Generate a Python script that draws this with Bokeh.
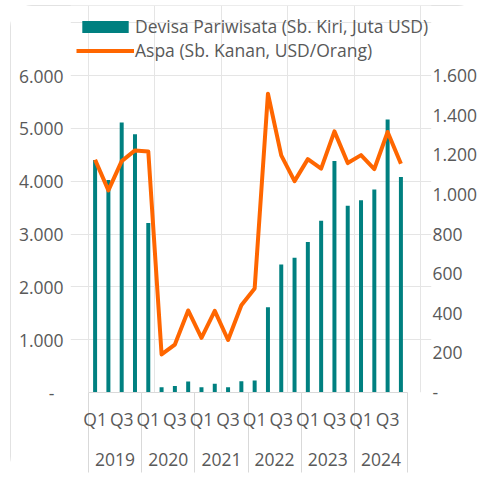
from bokeh.plotting import figure
from bokeh.models import (Range1d, LinearAxis, FixedTicker,
                          ColumnDataSource, Legend, LegendItem, AllLabels)
from bokeh.embed import file_html
from bokeh.resources import INLINE

# ---- data ----
years = ["2019", "2020", "2021", "2022", "2023", "2024"]
quarters = ["Q1", "Q2", "Q3", "Q4"]
shown_quarters = ["Q1", "Q3"]
devisa = [4400, 4020, 5110, 4890, 3210, 100, 125, 210, 100, 165, 100, 215,
          228, 1615, 2425, 2550, 2850, 3250, 4380, 3535, 3640, 3840, 5165, 4080]
aspa = [1175, 1020, 1168, 1222, 1217, 192, 242, 414, 276, 412, 265, 440,
        525, 1508, 1197, 1067, 1178, 1130, 1318, 1158, 1198, 1128, 1315, 1155]
left_ticks = [0, 1000, 2000, 3000, 4000, 5000, 6000]
left_labels = ["-\u00a0\u00a0", "1.000", "2.000", "3.000", "4.000", "5.000", "6.000"]
right_ticks = [0, 200, 400, 600, 800, 1000, 1200, 1400, 1600]
right_labels = ["-", "200", "400", "600", "800", "1.000", "1.200", "1.400", "1.600"]
series_names = ["Devisa Pariwisata (Sb. Kiri, Juta USD)", "Aspa (Sb. Kanan, USD/Orang)"]

# ---- style / layout ----
FONT = "Open Sans"
GREY = "#595959"
BORDER = "#D9D9D9"
TEAL = "#008080"
ORANGE = "#FF6600"
FS = "17.5px"
W, H = 470, 473              # canvas (shifted by a 10/5 px margin on the page)
PLOT_W, PLOT_H = 320, 317    # area spanned by the axes' value ranges
EXTRA_L, EXTRA_R, EXTRA_T = 18, 24, 70   # frame extends beyond that area (room for the legend)
B_LEFT, B_RIGHT, B_BOTTOM = 60, 48, 86

nq = len(quarters)
n = len(years) * nq
xpos = [i + 0.5 for i in range(n)]          # slot centres, one per quarter
source = ColumnDataSource(dict(x=xpos, devisa=devisa, aspa=aspa))

x_start = -EXTRA_L * n / PLOT_W
x_end = n + EXTRA_R * n / PLOT_W
y_scale = (PLOT_H + EXTRA_T) / PLOT_H
p = figure(width=W, height=H,
           x_range=Range1d(x_start, x_end), y_range=Range1d(0, max(left_ticks) * y_scale),
           output_backend="svg", toolbar_location=None,
           x_axis_location=None, y_axis_location=None,
           min_border_left=B_LEFT, min_border_right=B_RIGHT, min_border_top=0,
           min_border_bottom=B_BOTTOM)
p.outline_line_color = None
p.extra_y_ranges = {"right": Range1d(0, max(right_ticks) * y_scale)}
p.styles = {"margin-left": "10px", "margin-top": "5px",
            "outline": f"1px solid {BORDER}", "outline-offset": "-1px",
            "border-radius": "22px"}

bars = p.vbar(x="x", top="devisa", width=0.3, source=source, fill_color=TEAL, line_color=None)
line = p.line(x="x", y="aspa", source=source, y_range_name="right",
              line_color=ORANGE, line_width=4, line_join="round")

def style_labels(ax, standoff):
    ax.major_label_text_font = FONT
    ax.major_label_text_font_size = FS
    ax.major_label_text_color = GREY
    ax.axis_line_color = None
    ax.major_tick_line_color = None
    ax.minor_tick_line_color = None
    ax.major_tick_out = 0
    ax.major_tick_in = 0
    ax.minor_tick_out = 0
    ax.minor_tick_in = 0
    ax.major_label_standoff = standoff
    ax.major_label_policy = AllLabels()

left = LinearAxis(ticker=FixedTicker(ticks=left_ticks, minor_ticks=[]),
                  major_label_overrides=dict(zip(left_ticks, left_labels)))
style_labels(left, 7)
p.add_layout(left, "left")

right = LinearAxis(y_range_name="right", ticker=FixedTicker(ticks=right_ticks, minor_ticks=[]),
                   major_label_overrides=dict(zip(right_ticks, right_labels)))
style_labels(right, 1)
p.add_layout(right, "right")

# category box lines: baseline plus separators between years
sep_ticks = [k * nq for k in range(len(years) + 1)]
sep = LinearAxis(ticker=FixedTicker(ticks=sep_ticks, minor_ticks=[]), bounds=(0, n),
                 major_label_overrides={t: "" for t in sep_ticks},
                 major_tick_in=-80, major_tick_out=0, major_label_standoff=0,
                 minor_tick_in=0, minor_tick_out=0,
                 major_tick_line_color=BORDER, major_tick_line_width=1,
                 axis_line_color=BORDER, axis_line_width=1,
                 minor_tick_line_color=None, major_label_text_font_size="1px",
                 major_label_text_color=None)
p.add_layout(sep, "below")

# quarter labels
q_ticks, q_labels = [], []
for yi, y in enumerate(years):
    for qi, q in enumerate(quarters):
        if q in shown_quarters:
            q_ticks.append(yi * nq + qi + 0.5)
            q_labels.append(q)
qaxis = LinearAxis(ticker=FixedTicker(ticks=q_ticks, minor_ticks=[]),
                   major_label_overrides=dict(zip(q_ticks, q_labels)))
style_labels(qaxis, 14)
p.add_layout(qaxis, "below")

# year labels
y_ticks = [yi * nq + nq / 2 for yi in range(len(years))]
yaxis = LinearAxis(ticker=FixedTicker(ticks=y_ticks, minor_ticks=[]),
                   major_label_overrides=dict(zip(y_ticks, years)))
style_labels(yaxis, 19)
p.add_layout(yaxis, "below")

legend = Legend(items=[LegendItem(label=series_names[0], renderers=[bars]),
                       LegendItem(label=series_names[1], renderers=[line])],
                location=(6, 330), orientation="vertical",
                glyph_width=58, glyph_height=15, label_height=20,
                label_standoff=1, spacing=-5,
                padding=0, margin=0, border_line_color=None, background_fill_alpha=0,
                label_text_font=FONT, label_text_font_size=FS, label_text_color=GREY)
p.add_layout(legend, "center")

open("out.html", "w").write(file_html(p, INLINE))
